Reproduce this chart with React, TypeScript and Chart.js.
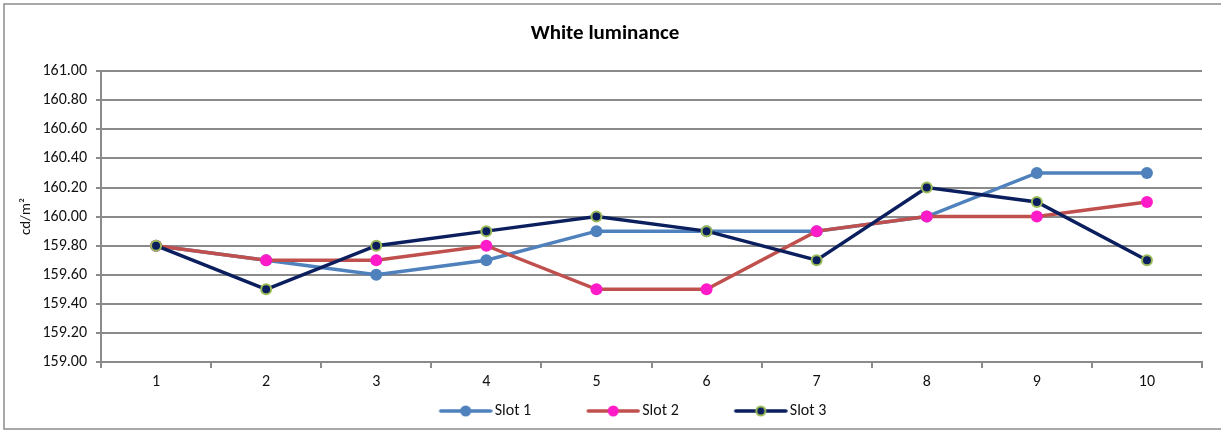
import React, { useEffect, useRef } from "react";
import { Chart, registerables } from "chart.js";

Chart.register(...registerables);

const categories = ["1", "2", "3", "4", "5", "6", "7", "8", "9", "10"];
const slot1 = [159.8, 159.7, 159.6, 159.7, 159.9, 159.9, 159.9, 160.0, 160.3, 160.3];
const slot2 = [159.8, 159.7, 159.7, 159.8, 159.5, 159.5, 159.9, 160.0, 160.0, 160.1];
const slot3 = [159.8, 159.5, 159.8, 159.9, 160.0, 159.9, 159.7, 160.2, 160.1, 159.7];
const seriesNames = ["Slot 1", "Slot 2", "Slot 3"];
const yMin = 159;
const yMax = 161;
const yStep = 0.2;

const FONT = "Carlito, Calibri, Lato, 'Open Sans', sans-serif";
const GRID = "#8a8a8a";
const GAP = 51;
const IMG_W = GAP + 54;
const BOX_W = IMG_W - 12;

function legendImage(line: string, fill: string, border: string, r: number, bw: number) {
  const c = document.createElement("canvas");
  c.width = IMG_W;
  c.height = 16;
  const ctx = c.getContext("2d")!;
  ctx.strokeStyle = line;
  ctx.lineWidth = 3.5;
  ctx.lineCap = "round";
  ctx.beginPath();
  ctx.moveTo(GAP + 2, 8);
  ctx.lineTo(GAP + 52, 8);
  ctx.stroke();
  ctx.beginPath();
  ctx.arc(GAP + 27, 8, r, 0, Math.PI * 2);
  ctx.fillStyle = fill;
  ctx.fill();
  if (bw > 0) {
    ctx.lineWidth = bw;
    ctx.strokeStyle = border;
    ctx.stroke();
  }
  return c;
}

export default function App() {
  const ref = useRef<HTMLCanvasElement>(null);

  useEffect(() => {
    if (!ref.current) return;
    const imgs = [
      legendImage("#4F81BD", "#4F81BD", "#4F81BD", 5.5, 0),
      legendImage("#C0504D", "#FF1CC8", "#FF1CC8", 5.5, 0),
      legendImage("#0B1F5E", "#0B1F5E", "#9BBB59", 4.5, 2),
    ];

    const borderPlugin = {
      id: "outerBorder",
      beforeDraw(chart: any) {
        const ctx = chart.ctx;
        ctx.save();
        ctx.fillStyle = "#ffffff";
        ctx.fillRect(0, 0, chart.width, chart.height);
        ctx.strokeStyle = "#8c8c8c";
        ctx.lineWidth = 1.5;
        ctx.strokeRect(4, 4, chart.width + 10, chart.height - 5);
        ctx.restore();
      },
    };

    const legendShift = {
      id: "legendShift",
      afterLayout(chart: any) {
        const lg = chart.legend;
        if (lg) {
          lg.left += 5;
          lg.right += 5;
        }
      },
    };

    const chart = new Chart(ref.current, {
      type: "line",
      data: {
        labels: categories,
        datasets: [
          {
            label: seriesNames[0],
            data: slot1,
            borderColor: "#4F81BD",
            backgroundColor: "#4F81BD",
            pointBackgroundColor: "#4F81BD",
            pointBorderColor: "#4F81BD",
            pointRadius: 6,
            pointBorderWidth: 0,
            borderWidth: 3.5,
            order: 2,
          },
          {
            label: seriesNames[1],
            data: slot2,
            borderColor: "#C0504D",
            backgroundColor: "#C0504D",
            pointBackgroundColor: "#FF1CC8",
            pointBorderColor: "#FF1CC8",
            pointRadius: 6,
            pointBorderWidth: 0,
            borderWidth: 3.5,
            order: 1,
          },
          {
            label: seriesNames[2],
            data: slot3,
            borderColor: "#0B1F5E",
            backgroundColor: "#0B1F5E",
            pointBackgroundColor: "#0B1F5E",
            pointBorderColor: "#9BBB59",
            pointRadius: 5,
            pointBorderWidth: 2,
            borderWidth: 3.5,
            order: 0,
          },
        ],
      },
      options: {
        animation: false,
        responsive: false,
        maintainAspectRatio: false,
        layout: { padding: { left: 8, right: 19, top: 0, bottom: 1 } },
        plugins: {
          tooltip: { enabled: false },
          title: {
            display: true,
            text: "White luminance",
            color: "#000",
            font: { family: FONT, size: 21, weight: "bold" },
            padding: { top: 21, bottom: 25 },
          },
          legend: {
            display: true,
            position: "bottom",
            labels: {
              color: "#111",
              font: { family: FONT, size: 16 },
              usePointStyle: true,
              pointStyleWidth: BOX_W,
              boxHeight: 16,
              padding: 10,
              sort: (a: any, b: any) => a.datasetIndex - b.datasetIndex,
              generateLabels: (chart: any) => {
                const base = Chart.defaults.plugins.legend.labels.generateLabels(chart);
                return base.map((l: any) => ({ ...l, pointStyle: imgs[l.datasetIndex], lineWidth: 0 }));
              },
            },
          },
        },
        scales: {
          x: {
            type: "category",
            offset: true,
            afterFit: (s: any) => {
              s.height = 31;
            },
            grid: {
              display: true,
              drawOnChartArea: false,
              drawTicks: true,
              tickLength: 6,
              offset: true,
              color: GRID,
              lineWidth: 2,
            },
            border: { display: true, color: GRID, width: 2 },
            ticks: {
              color: "#111",
              font: { family: FONT, size: 16 },
              padding: 4,
              maxRotation: 0,
            },
          },
          y: {
            type: "linear",
            min: yMin,
            max: yMax,
            afterFit: (s: any) => {
              s.width = 93;
            },
            title: {
              display: true,
              text: "cd/m²",
              color: "#111",
              font: { family: FONT, size: 15 },
              padding: { top: 9, bottom: 0 },
            },
            grid: {
              color: GRID,
              lineWidth: 2,
              tickLength: 5,
              drawTicks: true,
            },
            border: { display: true, color: GRID, width: 2 },
            ticks: {
              stepSize: yStep,
              color: "#111",
              font: { family: FONT, size: 16 },
              padding: 9,
              callback: (v: any) => Number(v).toFixed(2),
            },
          },
        },
      },
      plugins: [borderPlugin, legendShift],
    } as any);

    return () => chart.destroy();
  }, []);

  return (
    <div style={{ position: "fixed", left: 0, top: 0, width: 1221, height: 430, background: "#fff" }}>
      <canvas ref={ref} width={1221} height={430} style={{ display: "block", width: 1221, height: 430 }} />
    </div>
  );
}
